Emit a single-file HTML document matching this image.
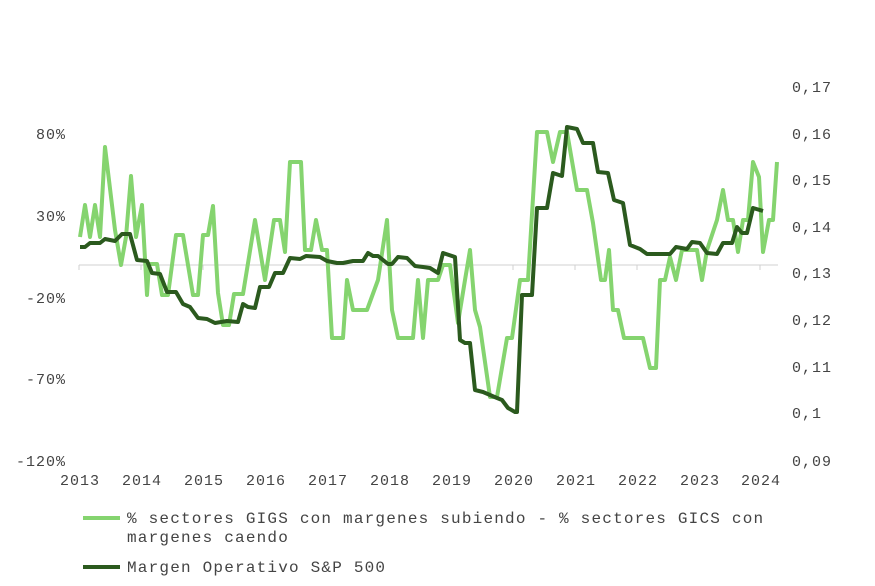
<!DOCTYPE html>
<html><head><meta charset="utf-8"><style>
body{margin:0;background:#fff}
svg text{font-family:"Liberation Mono",monospace;fill:#444}
</style></head><body>
<svg width="875" height="581" viewBox="0 0 875 581" xmlns="http://www.w3.org/2000/svg">
<line x1="79" y1="265" x2="778" y2="265" stroke="#d0d0d0" stroke-width="1"/>
<g stroke="#d0d0d0" stroke-width="1">
<line x1="79" y1="265" x2="79" y2="270"/><line x1="141" y1="265" x2="141" y2="270"/><line x1="203" y1="265" x2="203" y2="270"/><line x1="265" y1="265" x2="265" y2="270"/><line x1="327" y1="265" x2="327" y2="270"/><line x1="389" y1="265" x2="389" y2="270"/><line x1="451" y1="265" x2="451" y2="270"/><line x1="513" y1="265" x2="513" y2="270"/><line x1="575" y1="265" x2="575" y2="270"/><line x1="637" y1="265" x2="637" y2="270"/><line x1="699" y1="265" x2="699" y2="270"/><line x1="760" y1="265" x2="760" y2="270"/>
</g>
<g font-size="15" letter-spacing="1" text-anchor="end">
<text x="66" y="139">80%</text><text x="66" y="221">30%</text><text x="66" y="303">-20%</text><text x="66" y="384">-70%</text><text x="66" y="466">-120%</text>
</g>
<g font-size="15" letter-spacing="1">
<text x="792" y="92">0,17</text><text x="792" y="139">0,16</text><text x="792" y="185">0,15</text><text x="792" y="232">0,14</text><text x="792" y="278">0,13</text><text x="792" y="325">0,12</text><text x="792" y="372">0,11</text><text x="792" y="418">0,1</text><text x="792" y="466">0,09</text>
</g>
<g font-size="15" letter-spacing="1" text-anchor="middle">
<text x="80" y="485">2013</text><text x="142" y="485">2014</text><text x="204" y="485">2015</text><text x="266" y="485">2016</text><text x="328" y="485">2017</text><text x="390" y="485">2018</text><text x="452" y="485">2019</text><text x="514" y="485">2020</text><text x="576" y="485">2021</text><text x="638" y="485">2022</text><text x="700" y="485">2023</text><text x="761" y="485">2024</text>
</g>
<polyline fill="none" stroke="#85d46f" stroke-width="4" stroke-linejoin="round" points="80,237 85,205 90,237 95,205 100,237 105,147 115,230 121,265 126,237 131,176 136,237 142,205 147,295 149,264 157,264 162,295 168,295 176,235 183,235 193,295 198,295 203,235 208,235 213,206 218,293 223,325 229,325 234,294 243,294 255,220 265,280 274,220 280,220 285,252 290,162 301,162 305,250 311,250 316,220 322,250 327,250 332,338 343,338 347,280 353,310 367,310 378,280 387,220 392,310 398,338 413,338 418,280 423,338 428,280 438,280 443,265 450,265 458,323 465,280 470,250 475,310 480,327 490,397 497,397 507,338 512,338 520,280 528,280 537,132 547,132 553,162 560,132 567,132 577,190 587,190 593,223 601,280 605,280 609,250 613,310 618,310 624,338 643,338 650,368 656,368 660,280 665,280 670,257 676,280 682,250 697,250 702,280 707,250 717,220 723,190 728,220 733,220 738,252 743,220 748,220 753,162 759,177 763,252 769,220 773,220 777,162"/>
<polyline fill="none" stroke="#2b5a1e" stroke-width="4" stroke-linejoin="round" points="80,247 85,247 90,243 100,243 105,239 115,241 122,234 130,234 137,260 147,261 152,273 160,274 167,292 176,292 183,304 190,307 198,318 207,319 215,323 227,321 238,322 243,304 248,307 255,308 260,287 269,287 275,273 283,273 290,258 300,259 306,256 320,257 327,261 337,263 343,263 353,261 363,261 368,253 373,256 378,256 388,264 392,264 398,257 407,258 415,266 423,267 430,268 438,273 443,253 455,257 460,340 465,343 470,343 475,390 483,392 490,395 497,398 502,400 508,408 515,412 517,412 522,295 532,295 537,208 547,208 553,173 562,176 567,127 577,129 583,143 593,143 598,172 608,173 614,200 623,203 630,245 640,249 647,254 670,254 676,247 687,249 692,242 700,243 707,253 717,254 723,243 732,243 737,227 742,233 747,233 753,208 763,211"/>
<line x1="83" y1="518" x2="120" y2="518" stroke="#85d46f" stroke-width="4"/>
<line x1="83" y1="567" x2="120" y2="567" stroke="#2b5a1e" stroke-width="4"/>
<g font-size="16" letter-spacing="1.2">
<text x="127" y="523">% sectores GIGS con margenes subiendo - % sectores GICS con</text>
<text x="127" y="542">margenes caendo</text>
<text x="127" y="572">Margen Operativo S&amp;P 500</text>
</g>
</svg>
</body></html>
